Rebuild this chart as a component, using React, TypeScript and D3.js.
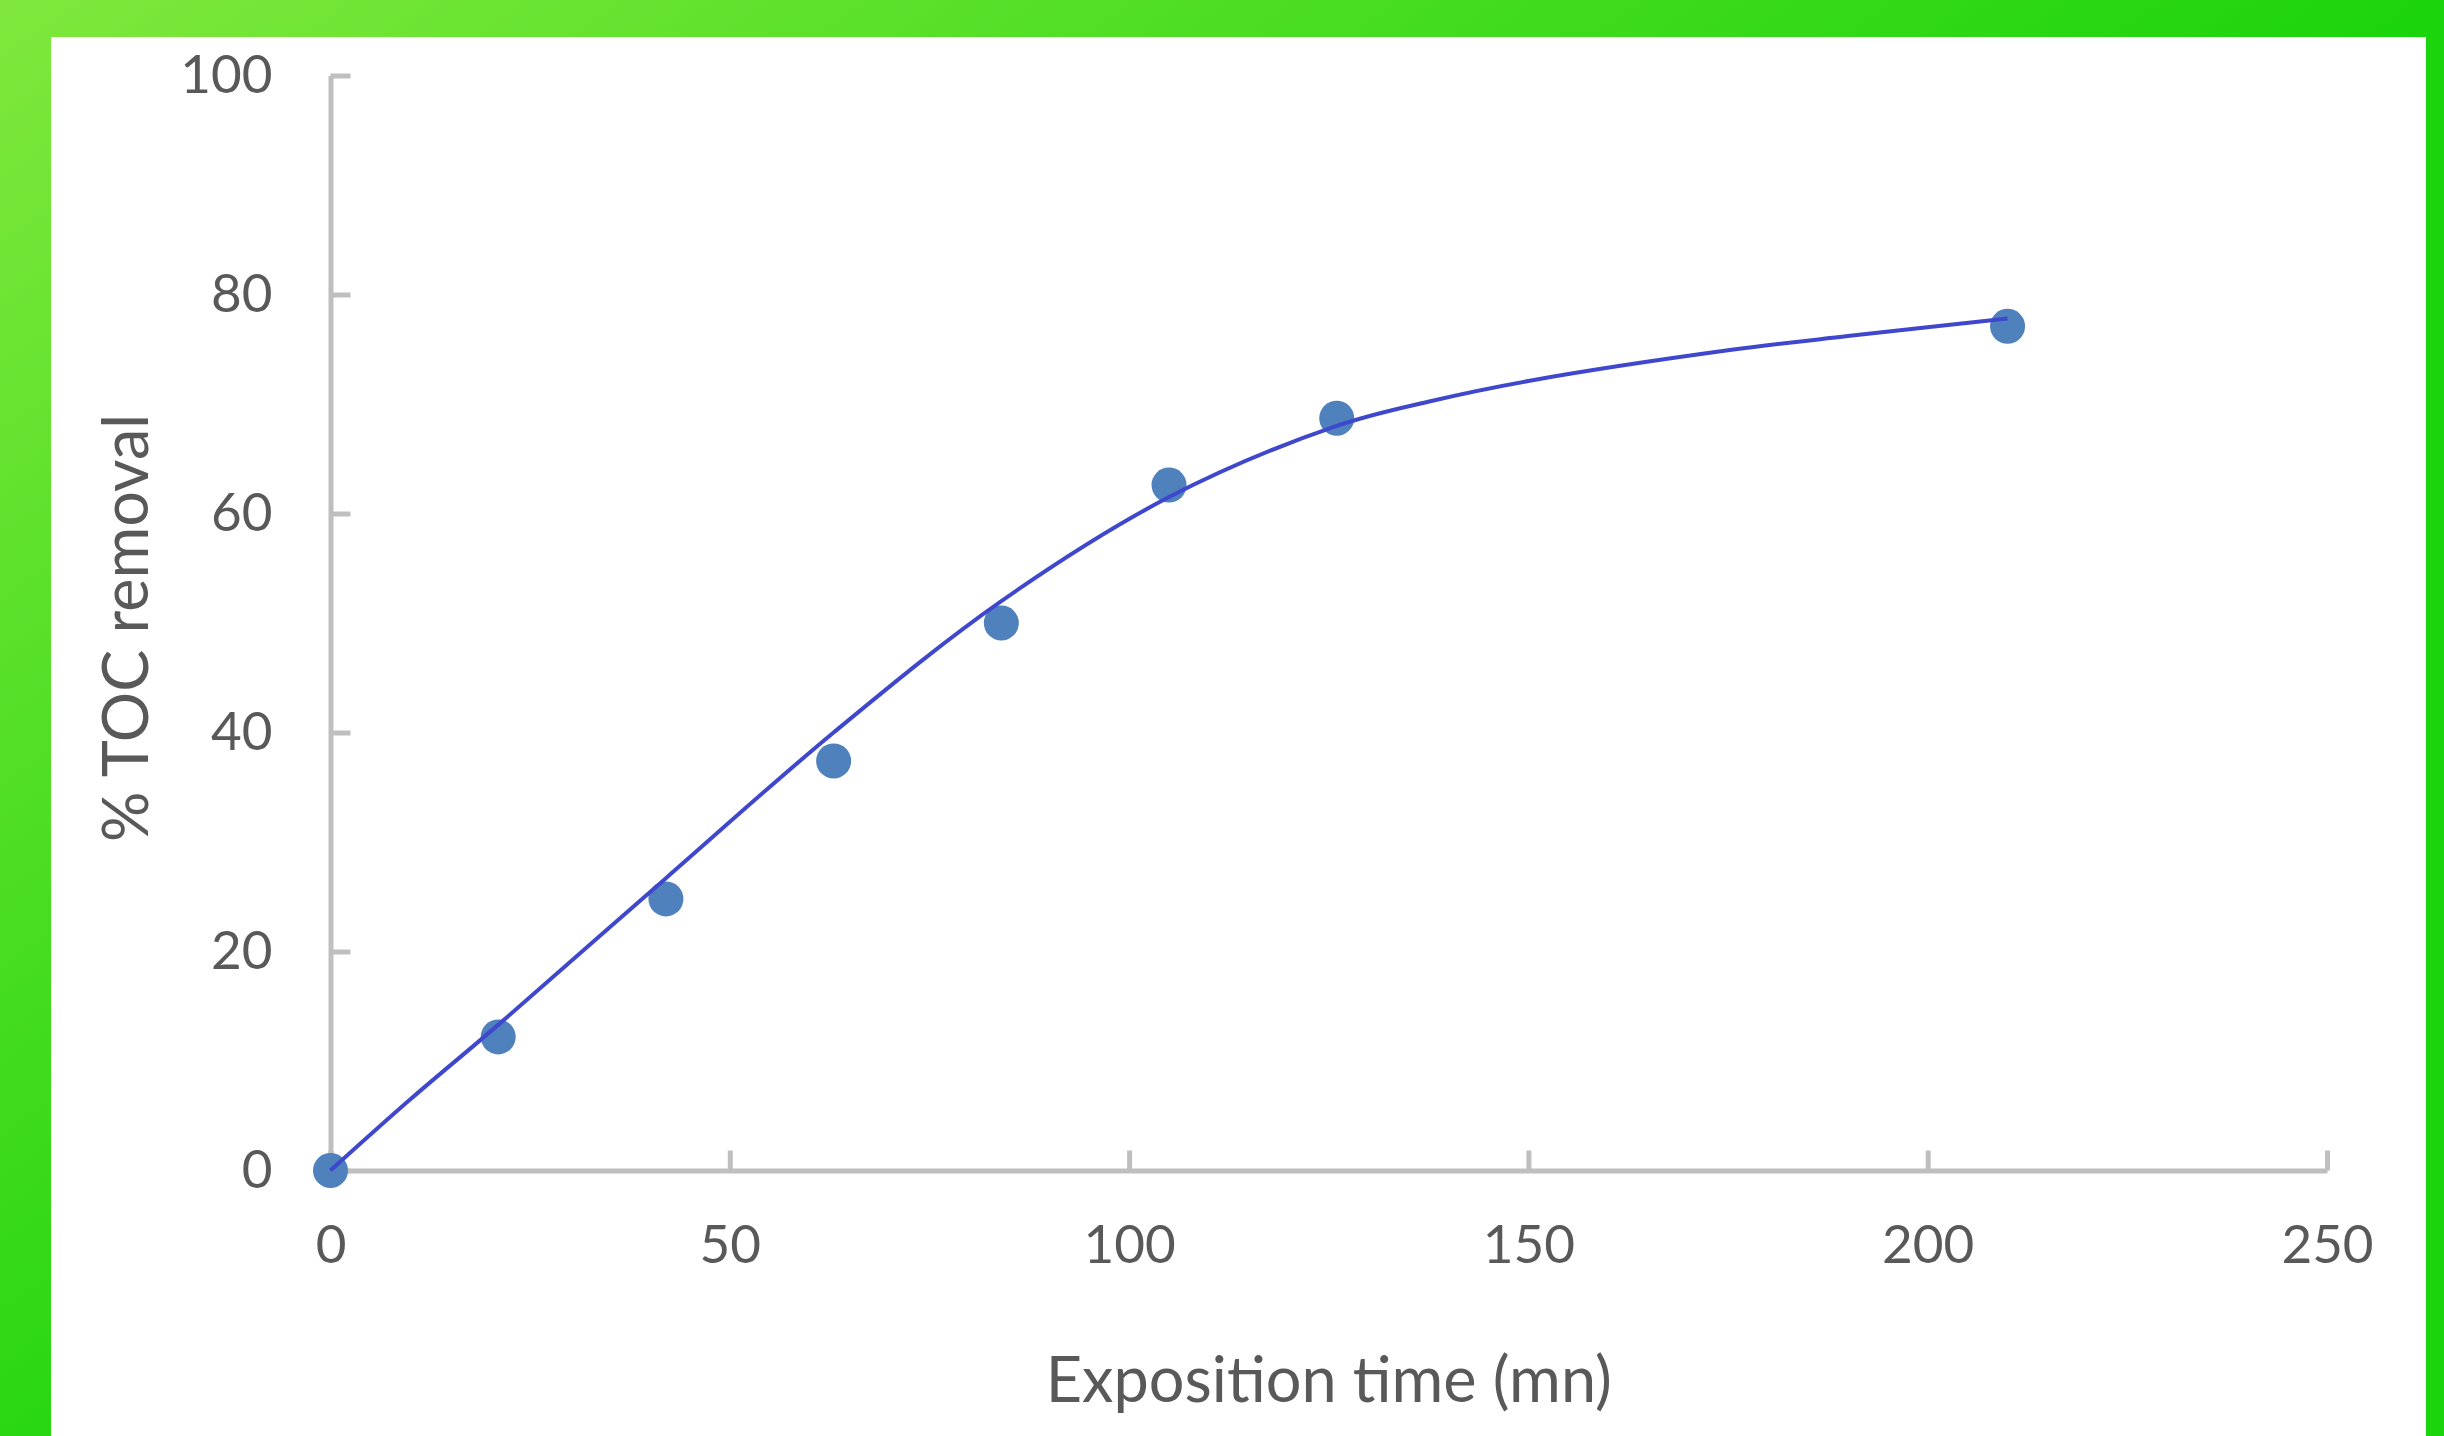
import React, { useEffect, useRef } from "react";
import * as d3 from "d3";

const WIDTH = 2444;
const HEIGHT = 1436;

// measured TOC removal (markers)
const times = [0, 21, 42, 63, 84, 105, 126, 210];
const tocRemoval = [0, 12.2, 24.8, 37.4, 50.0, 62.6, 68.7, 77.1];

// trend line
const trendTimes = [0, 10, 21, 42, 63, 84, 105, 126, 138, 150, 175, 190, 210];
const trendValues = [0, 6.5, 13.3, 26.7, 40.0, 52.0, 61.5, 68.0, 70.3, 72.1, 74.9, 76.2, 77.8];

const xTicks = [0, 50, 100, 150, 200, 250];
const yTicks = [0, 20, 40, 60, 80, 100];

const xTitle = "Exposition time (mn)";
const yTitle = "% TOC removal";

const FONT = "Lato, 'Open Sans', sans-serif";
const TEXT_COLOR = "#595959";
const AXIS_COLOR = "#bfbfbf";

function App() {
    const svgRef = useRef<SVGSVGElement>(null);

    useEffect(() => {
        document.body.style.margin = "0";
        const svg = d3.select(svgRef.current);

        const x = d3.scaleLinear().domain([0, 250]).range([330.5, 2327]);
        const y = d3.scaleLinear().domain([0, 100]).range([1170.5, 75.5]);

        // axes, Excel style: inside ticks, grey lines
        const xAxis = d3.axisBottom(x)
            .tickValues(xTicks)
            .tickSizeInner(-20)
            .tickSizeOuter(0)
            .tickPadding(55);
        const yAxis = d3.axisLeft(y)
            .tickValues(yTicks)
            .tickSizeInner(-20)
            .tickSizeOuter(0)
            .tickPadding(58);

        const gx = svg.select(".x-axis")
            .attr("transform", `translate(0,${y(0)})`)
            .call(xAxis as any);
        const gy = svg.select(".y-axis")
            .attr("transform", `translate(${x(0)},0)`)
            .call(yAxis as any);

        [gx, gy].forEach(g => {
            g.attr("font-family", FONT).attr("font-size", 53);
            g.selectAll(".domain, line")
                .attr("stroke", AXIS_COLOR)
                .attr("stroke-width", 5);
            g.selectAll("text").attr("fill", TEXT_COLOR);
        });

        // markers
        svg.select(".points")
            .selectAll("circle")
            .data(times)
            .join("circle")
            .attr("cx", (d) => x(d))
            .attr("cy", (d, i) => y(tocRemoval[i]))
            .attr("r", 17.5)
            .attr("fill", "#4f81bd");

        // trend line on top of markers
        const line = d3.line<number>()
            .x((d) => x(d))
            .y((d, i) => y(trendValues[i]))
            .curve(d3.curveCatmullRom.alpha(0.5));

        svg.select(".trend")
            .selectAll("path")
            .data([trendTimes])
            .join("path")
            .attr("d", line)
            .attr("fill", "none")
            .attr("stroke", "#3f48cc")
            .attr("stroke-width", 4);

        // titles
        svg.select(".titles")
            .selectAll("text.x-title")
            .data([xTitle])
            .join("text")
            .attr("class", "x-title")
            .attr("x", (x(0) + x(250)) / 2)
            .attr("y", 1402)
            .attr("text-anchor", "middle")
            .attr("font-family", FONT)
            .attr("font-size", 63)
            .attr("fill", TEXT_COLOR)
            .text((d) => d);

        svg.select(".titles")
            .selectAll("text.y-title")
            .data([yTitle])
            .join("text")
            .attr("class", "y-title")
            .attr("transform", `translate(148,628) rotate(-90)`)
            .attr("text-anchor", "middle")
            .attr("font-family", FONT)
            .attr("font-size", 63)
            .attr("fill", TEXT_COLOR)
            .text((d) => d);
    }, []);

    return (
        <svg ref={svgRef} width={WIDTH} height={HEIGHT} style={{display: "block"}}>
            <defs>
                <linearGradient id="frame" gradientUnits="userSpaceOnUse" x1={0} y1={0} x2={791} y2={1144}>
                    <stop offset="0" stopColor="#80e83c"/>
                    <stop offset="1" stopColor="#1cd40c"/>
                </linearGradient>
            </defs>
            <rect width={WIDTH} height={HEIGHT} fill="url(#frame)"/>
            <rect x={51} y={37} width={2426 - 51} height={HEIGHT - 37} fill="#ffffff"/>
            <g className="x-axis"/>
            <g className="y-axis"/>
            <g className="points"/>
            <g className="trend"/>
            <g className="titles"/>
        </svg>
    );
}

export default App;
